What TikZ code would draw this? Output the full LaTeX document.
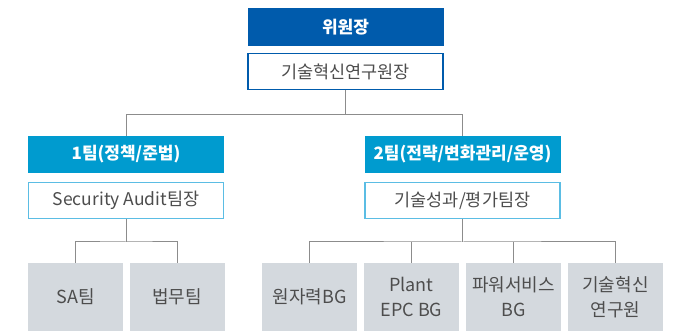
\documentclass[tikz,border=0pt]{standalone}
\usepackage{fontspec}
\setmainfont{Noto Sans CJK KR}
\definecolor{darkblue}{HTML}{005BAC}
\definecolor{teamblue}{HTML}{009BCF}
\definecolor{lightborder}{HTML}{5BBDE4}
\definecolor{boxgray}{HTML}{D4D9DE}
\definecolor{textgray}{HTML}{4D4D4D}
\definecolor{linegray}{HTML}{8C8C8C}
\begin{document}
\begin{tikzpicture}[x=1pt,y=-1pt,
  headbox/.style={rectangle, fill=darkblue, text=white, minimum width=196pt, minimum height=38pt, inner sep=0pt, font=\fontsize{17}{20}\selectfont\bfseries},
  teambox/.style={rectangle, fill=teamblue, text=white, minimum width=196pt, minimum height=37pt, inner sep=0pt, font=\fontsize{17}{20}\selectfont\bfseries},
  chiefbox/.style={rectangle, fill=white, draw=darkblue, line width=1.5pt, text=textgray, minimum width=195pt, minimum height=36pt, inner sep=0pt, font=\fontsize{17.5}{20}\selectfont},
  leadbox/.style={rectangle, fill=white, draw=lightborder, line width=1.5pt, text=textgray, minimum width=195pt, minimum height=36pt, inner sep=0pt, font=\fontsize{17.5}{20}\selectfont},
  unitbox/.style={rectangle, fill=boxgray, text=textgray, minimum width=95pt, minimum height=68pt, inner sep=0pt, align=center, font=\fontsize{18}{25}\selectfont},
  conn/.style={draw=linegray, line width=1pt}
]
\useasboundingbox (0,0) rectangle (675,331);
\node[headbox] (head) at (345.5,27) {위원장};
\node[chiefbox] (chief) at (345.5,71.5) {기술혁신연구원장};
\node[teambox] (t1) at (126,154.5) {1팀(정책/준법)};
\node[leadbox] (l1) at (126,200.5) {Security Audit팀장};
\node[teambox] (t2) at (462.5,154.5) {2팀(전략/변화관리/운영)};
\node[leadbox] (l2) at (462.5,200.5) {기술성과/평가팀장};
\node[unitbox] (sa) at (75.5,297) {SA팀};
\node[unitbox] (law) at (177,297) {법무팀};
\node[unitbox] (nuc) at (309.5,297) {원자력BG};
\node[unitbox] (plant) at (411.5,297) {Plant\\EPC BG};
\node[unitbox] (power) at (513.5,297) {파워서비스\\BG};
\node[unitbox] (tech) at (615.5,297) {기술혁신\\연구원};
\coordinate (j0) at (345.5,114.5);
\coordinate (j1) at (126,242);
\coordinate (j2) at (462.5,242);
\draw[conn] (chief.south) -- (j0);
\draw[conn] (t1.north) |- (j0) -| (t2.north);
\draw[conn] (l1.south) -- (j1);
\draw[conn] (sa.north) |- (j1) -| (law.north);
\draw[conn] (l2.south) -- (j2);
\draw[conn] (nuc.north) |- (j2) -| (tech.north);
\draw[conn] (plant.north) -- (plant.north |- j2);
\draw[conn] (power.north) -- (power.north |- j2);
\end{tikzpicture}
\end{document}
